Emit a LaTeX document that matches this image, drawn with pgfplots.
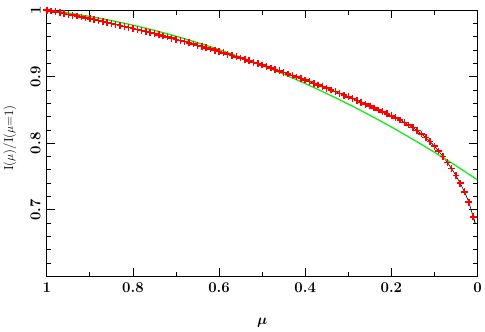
\documentclass[border=0pt]{standalone}
\usepackage{pgfplots}
\pgfplotsset{compat=1.18}
\usepackage{pgfplotstable}
\usepackage{bm}

% red crosses: I(mu)/I(mu=1)
\pgfplotstableread{
mu I
1.00 1.0000
0.99 0.9988
0.98 0.9975
0.97 0.9963
0.96 0.9950
0.95 0.9938
0.94 0.9924
0.93 0.9911
0.92 0.9898
0.91 0.9884
0.90 0.9871
0.89 0.9857
0.88 0.9843
0.87 0.9829
0.86 0.9815
0.85 0.9801
0.84 0.9786
0.83 0.9771
0.82 0.9756
0.81 0.9741
0.80 0.9726
0.79 0.9710
0.78 0.9694
0.77 0.9678
0.76 0.9662
0.75 0.9646
0.74 0.9629
0.73 0.9612
0.72 0.9596
0.71 0.9579
0.70 0.9562
0.69 0.9544
0.68 0.9526
0.67 0.9509
0.66 0.9491
0.65 0.9473
0.64 0.9454
0.63 0.9435
0.62 0.9417
0.61 0.9398
0.60 0.9379
0.59 0.9359
0.58 0.9339
0.57 0.9320
0.56 0.9300
0.55 0.9280
0.54 0.9259
0.53 0.9238
0.52 0.9217
0.51 0.9196
0.50 0.9176
0.49 0.9154
0.48 0.9132
0.47 0.9110
0.46 0.9088
0.45 0.9066
0.44 0.9042
0.43 0.9019
0.42 0.8996
0.41 0.8973
0.40 0.8950
0.39 0.8925
0.38 0.8901
0.37 0.8876
0.36 0.8852
0.35 0.8827
0.34 0.8801
0.33 0.8775
0.32 0.8749
0.31 0.8723
0.30 0.8698
0.29 0.8670
0.28 0.8643
0.27 0.8615
0.26 0.8588
0.25 0.8560
0.24 0.8531
0.23 0.8501
0.22 0.8472
0.21 0.8442
0.20 0.8413
0.19 0.8382
0.18 0.8349
0.17 0.8314
0.16 0.8276
0.15 0.8235
0.14 0.8190
0.13 0.8140
0.12 0.8085
0.11 0.8024
0.10 0.7957
0.09 0.7883
0.08 0.7801
0.07 0.7713
0.06 0.7617
0.05 0.7514
0.04 0.7400
0.03 0.7270
0.02 0.7115
0.01 0.6895
}\obsdata

% green fit
\pgfplotstableread{
mu I
1.00 1.0000
0.95 0.9957
0.90 0.9905
0.85 0.9844
0.80 0.9775
0.75 0.9696
0.70 0.9609
0.65 0.9512
0.60 0.9407
0.55 0.9293
0.50 0.9170
0.45 0.9038
0.40 0.8897
0.35 0.8747
0.30 0.8589
0.25 0.8421
0.20 0.8245
0.15 0.8059
0.10 0.7865
0.05 0.7662
0.00 0.7450
}\fitdata

\definecolor{fitgreen}{RGB}{20,235,20}

\begin{document}
\begin{tikzpicture}
\begin{axis}[
  scale only axis,
  width=432pt, height=267pt,
  x dir=reverse,
  xmin=0, xmax=1, ymin=0.6, ymax=1,
  xtick={0,0.2,0.4,0.6,0.8,1},
  minor x tick num=1,
  ytick={0.6,0.7,0.8,0.9,1},
  yticklabels={,0.7,0.8,0.9,1},
  minor y tick num=4,
  tick align=inside,
  major tick length=8pt, minor tick length=4.5pt,
  tick style={black, line width=0.9pt},
  axis line style={line width=1.3pt},
  ticklabel style={font=\fontsize{15}{17}\selectfont\bfseries},
  /pgf/number format/assume math mode=true,
  xticklabel style={yshift=-3pt},
  yticklabel style={rotate=90, anchor=south, inner sep=6pt},
  xlabel={$\bm{\mu}$},
  xlabel style={font=\fontsize{15}{17}\selectfont, at={(axis description cs:0.5,-0.176)}, anchor=center},
  ylabel={I($\mu$)/I($\mu$=1)},
  ylabel style={font=\fontsize{13}{15}\selectfont, at={(axis description cs:-0.086,0.52)}, anchor=center},
]
\addplot[only marks, mark=+, mark size=3.4pt, red, mark options={line width=1.5pt}] table[x=mu, y=I] {\obsdata};
\addplot[black, line width=0.6pt] table[x=mu, y=I] {\obsdata};
\addplot[black, line width=0.9pt] coordinates {(0.01,0.6895) (0.007,0.6835) (0.005,0.679)};
\addplot[fitgreen, line width=1.3pt, smooth] table[x=mu, y=I] {\fitdata};
\end{axis}
\end{tikzpicture}
\end{document}
